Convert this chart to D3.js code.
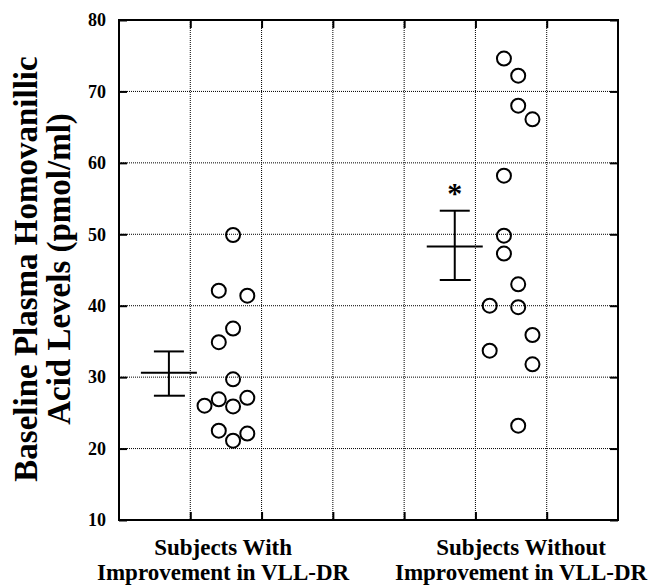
<!DOCTYPE html>
<html>
<head>
<meta charset="utf-8">
<script src="https://cdn.jsdelivr.net/npm/d3@7"></script>
<style>
  body { margin: 0; background: #fff; }
  text { font-family: "Liberation Serif", "Times New Roman", serif; font-weight: bold; }
</style>
</head>
<body>
<svg id="chart"></svg>
<script>
// values (pmol/ml)
let withValues = [49.9, 42.1, 41.4, 36.8, 34.9, 29.7, 26.0, 26.9, 25.9, 27.1, 22.5, 21.1, 22.1];
let withSlot   = [2, 1, 3, 2, 1, 2, 0, 1, 2, 3, 1, 2, 3];
let withoutValues = [74.6, 72.2, 68.0, 66.1, 58.2, 49.8, 47.3, 43.0, 40.0, 39.8, 35.9, 33.7, 31.8, 23.2];
let withoutSlot   = [1, 2, 2, 3, 1, 1, 1, 2, 0, 2, 3, 0, 3, 2];

let groupNames = [["Subjects With", "Improvement in VLL-DR"], ["Subjects Without", "Improvement in VLL-DR"]];
let means = [30.6, 48.3];
let upper = [33.6, 53.3];
let lower = [27.4, 43.6];
let significant = [false, true];

let yTicks = [10, 20, 30, 40, 50, 60, 70, 80];
let xGrid = [1, 2, 3, 4, 5, 6];

let width = 661, height = 587;
let margin = {left: 119, right: 43, top: 20, bottom: 67};

let svg = d3.select('#chart')
            .attr("width", width)
            .attr("height", height);

let x = d3.scaleLinear()
          .domain([0, 7])
          .range([margin.left, width - margin.right]);

let y = d3.scaleLinear()
          .domain([10, 80])
          .range([height - margin.bottom, margin.top]);

// slot positions inside each group (x domain units)
let groupBase = [1.2, 5.2], slotStep = 0.2, barPos = [0.7, 4.71];

// dotted grid
svg.append("g")
   .selectAll("line")
   .data(xGrid)
   .enter().append("line")
   .attr("x1", d => x(d)).attr("x2", d => x(d))
   .attr("y1", y(80)).attr("y2", y(10))
   .attr("stroke", "#000")
   .attr("stroke-width", 1)
   .attr("stroke-dasharray", "1,1");

svg.append("g")
   .selectAll("line")
   .data(yTicks.filter(d => d > 10 && d < 80))
   .enter().append("line")
   .attr("x1", x(0)).attr("x2", x(7))
   .attr("y1", d => y(d)).attr("y2", d => y(d))
   .attr("stroke", "#000")
   .attr("stroke-width", 1)
   .attr("stroke-dasharray", "1,1");

// axes, ticks pointing inward
let leftAxis = svg.append("g")
   .attr("transform", `translate(${x(0)},0)`)
   .call(d3.axisLeft(y).tickValues(yTicks).tickSize(-8).tickPadding(13));
leftAxis.selectAll("text").attr("font-size", "18px").attr("fill", "#000");

svg.append("g")
   .attr("transform", `translate(${x(7)},0)`)
   .call(d3.axisRight(y).tickValues(yTicks).tickSize(-8).tickFormat(""));

svg.append("g")
   .attr("transform", `translate(0,${y(80)})`)
   .call(d3.axisTop(x).tickValues(xGrid).tickSize(-8).tickFormat(""));

svg.append("g")
   .attr("transform", `translate(0,${y(10)})`)
   .call(d3.axisBottom(x).tickValues(xGrid).tickSize(-8).tickFormat(""));

svg.selectAll(".domain").remove();
svg.selectAll(".tick line").attr("stroke", "#000").attr("stroke-width", 2);

svg.append("rect")
   .attr("x", x(0)).attr("y", y(80))
   .attr("width", x(7) - x(0)).attr("height", y(10) - y(80))
   .attr("fill", "none")
   .attr("stroke", "#000")
   .attr("stroke-width", 2);

// points
let pts = withValues.map((v, i) => ({g: 0, v: v, s: withSlot[i]}))
  .concat(withoutValues.map((v, i) => ({g: 1, v: v, s: withoutSlot[i]})));

svg.append("g")
   .selectAll("circle")
   .data(pts)
   .enter().append("circle")
   .attr("cx", d => x(groupBase[d.g] + d.s * slotStep))
   .attr("cy", d => y(d.v))
   .attr("r", 7)
   .attr("fill", "none")
   .attr("stroke", "#000")
   .attr("stroke-width", 2);

// mean +/- error bars
let bars = svg.append("g").selectAll("g")
   .data(means.map((m, i) => ({m: m, hi: upper[i], lo: lower[i], xp: barPos[i], sig: significant[i]})))
   .enter().append("g")
   .attr("stroke", "#000")
   .attr("stroke-width", 2);

bars.append("line")
   .attr("x1", d => x(d.xp)).attr("x2", d => x(d.xp))
   .attr("y1", d => y(d.hi)).attr("y2", d => y(d.lo));
bars.append("line")
   .attr("x1", d => x(d.xp) - 15).attr("x2", d => x(d.xp) + 15)
   .attr("y1", d => y(d.hi)).attr("y2", d => y(d.hi));
bars.append("line")
   .attr("x1", d => x(d.xp) - 15).attr("x2", d => x(d.xp) + 16)
   .attr("y1", d => y(d.lo)).attr("y2", d => y(d.lo));
bars.append("line")
   .attr("x1", d => x(d.xp) - 28).attr("x2", d => x(d.xp) + 28)
   .attr("y1", d => y(d.m)).attr("y2", d => y(d.m));

bars.filter(d => d.sig).append("text")
   .attr("x", d => x(d.xp))
   .attr("y", d => y(d.hi) - 8)
   .attr("text-anchor", "middle")
   .attr("stroke", "none")
   .attr("font-size", "30px")
   .text("*");

// category labels
let labelPos = [1.46, 5.64];
groupNames.forEach((lines, i) => {
  svg.append("text")
     .attr("x", x(labelPos[i]))
     .attr("y", 555)
     .attr("text-anchor", "middle")
     .attr("font-size", "23px")
     .selectAll("tspan")
     .data(lines)
     .enter().append("tspan")
     .attr("x", x(labelPos[i]))
     .attr("dy", (d, j) => j == 0 ? 0 : 25)
     .text(d => d);
});

// y title
let yTitle = ["Baseline Plasma Homovanillic", "Acid Levels (pmol/ml)"];
svg.append("g")
   .selectAll("text")
   .data(yTitle)
   .enter().append("text")
   .attr("transform", (d, i) => `translate(${37 + i * 33},${(y(10) + y(80)) / 2 - 1}) rotate(-90)`)
   .attr("text-anchor", "middle")
   .attr("font-size", "33px")
   .text(d => d);
</script>
</body>
</html>
